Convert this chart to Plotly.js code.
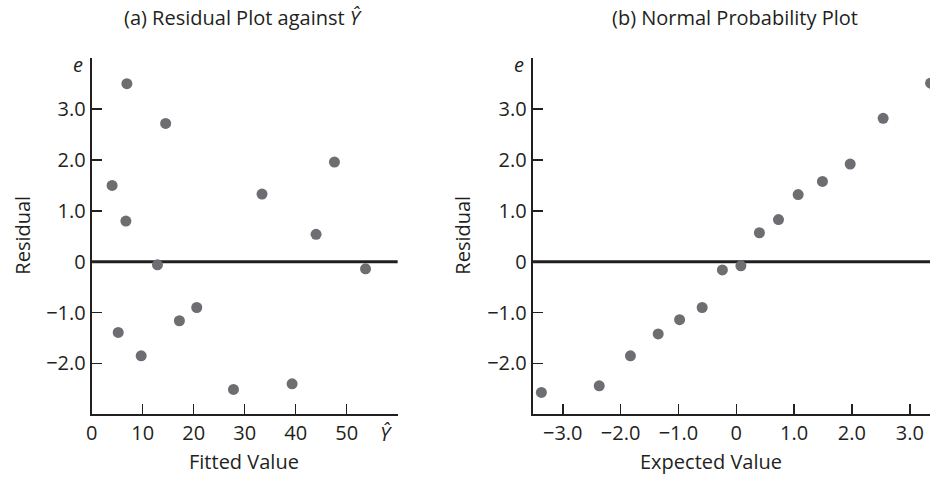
<!DOCTYPE html>
<html>
<head>
<meta charset="utf-8">
<script src="https://cdn.plot.ly/plotly-3.0.1.min.js"></script>
<style>
  html, body { margin: 0; padding: 0; background: #fff; overflow: hidden; }
  #chart { width: 930px; height: 477px; }
</style>
</head>
<body>
<div id="chart"></div>
<script>
// (a) residuals against fitted values
const fittedValues = [6.9, 14.5, 4.0, 6.7, 12.9, 33.4, 44.0, 47.6, 53.7, 5.2, 9.7, 17.2, 20.6, 27.8, 39.3];
const residualsA   = [3.50, 2.72, 1.50, 0.80, -0.06, 1.33, 0.54, 1.96, -0.14, -1.39, -1.85, -1.16, -0.90, -2.51, -2.40];

// (b) ordered residuals against expected normal values
const expectedValues = [-3.37, -2.37, -1.83, -1.35, -0.98, -0.59, -0.24, 0.08, 0.40, 0.73, 1.07, 1.49, 1.97, 2.54, 3.36];
const residualsB     = [-2.57, -2.44, -1.85, -1.42, -1.14, -0.90, -0.16, -0.08, 0.57, 0.83, 1.32, 1.58, 1.92, 2.82, 3.51];

// tick labels
const fittedTicks = [0, 10, 20, 30, 40, 50];
const fittedTickText = ['0', '10', '20', '30', '40', '50'];
const expectedTicks = [-3, -2, -1, 0, 1, 2, 3];
const expectedTickText = ['\u22123.0', '\u22122.0', '\u22121.0', '0', '1.0', '2.0', '3.0'];
const residualTicks = [-2, -1, 0, 1, 2, 3];
const residualTickText = ['\u22122.0', '\u22121.0', '0', '1.0', '2.0', '3.0'];

const INK = '#231f20';
const DOT = '#6d6e71';
const FONT = 'Open Sans, Noto Sans, sans-serif';
const FS = 20;

const marker = { color: DOT, size: 11 };

const traces = [
  { type: 'scatter', mode: 'markers', x: fittedValues, y: residualsA, xaxis: 'x', yaxis: 'y', marker: marker, hoverinfo: 'x+y' },
  { type: 'scatter', mode: 'markers', x: expectedValues, y: residualsB, xaxis: 'x2', yaxis: 'y2', marker: marker, hoverinfo: 'x+y' }
];

const yDomain = [0.1314, 0.8778];

function axisBase() {
  return {
    showline: true, linecolor: INK, linewidth: 2,
    ticks: 'inside', ticklen: 10, tickwidth: 1.5, tickcolor: INK,
    showgrid: false, zeroline: false,
    tickfont: { family: FONT, size: FS, color: INK },
    fixedrange: true
  };
}

const layout = {
  width: 930, height: 477,
  margin: { l: 0, r: 0, t: 0, b: 0 },
  paper_bgcolor: '#fff', plot_bgcolor: '#fff',
  showlegend: false,
  font: { family: FONT, size: FS, color: INK },
  xaxis: Object.assign(axisBase(), {
    domain: [0.0986, 0.4276], range: [0, 60], anchor: 'y',
    tickmode: 'array', tickvals: fittedTicks, ticktext: fittedTickText
  }),
  yaxis: Object.assign(axisBase(), {
    domain: yDomain, range: [-3, 4], anchor: 'x',
    tickmode: 'array', tickvals: residualTicks, ticktext: residualTickText
  }),
  xaxis2: Object.assign(axisBase(), {
    domain: [0.5728, 1], range: [-3.52, 3.35], anchor: 'y2',
    tickmode: 'array', tickvals: expectedTicks, ticktext: expectedTickText
  }),
  yaxis2: Object.assign(axisBase(), {
    domain: yDomain, range: [-3, 4], anchor: 'x2',
    tickmode: 'array', tickvals: residualTicks, ticktext: residualTickText
  }),
  shapes: [
    { type: 'line', xref: 'x domain', yref: 'y', x0: 0, x1: 1, y0: 0, y1: 0, line: { color: INK, width: 3 }, layer: 'below' },
    { type: 'line', xref: 'x2 domain', yref: 'y2', x0: 0, x1: 1, y0: 0, y1: 0, line: { color: INK, width: 3 }, layer: 'below' }
  ],
  annotations: [
    { text: '(a) Residual Plot against <i>\u0176</i>', xref: 'paper', yref: 'paper', x: 0.2618, y: 0.9623, xanchor: 'center', yanchor: 'middle', showarrow: false },
    { text: '(b) Normal Probability Plot', xref: 'paper', yref: 'paper', x: 0.790, y: 0.9623, xanchor: 'center', yanchor: 'middle', showarrow: false },
    { text: 'Fitted Value', xref: 'paper', yref: 'paper', x: 0.2629, y: 0.032, xanchor: 'center', yanchor: 'middle', showarrow: false },
    { text: 'Expected Value', xref: 'paper', yref: 'paper', x: 0.7645, y: 0.032, xanchor: 'center', yanchor: 'middle', showarrow: false },
    { text: 'Residual', xref: 'paper', yref: 'paper', x: 0.0242, y: 0.507, textangle: -90, xanchor: 'center', yanchor: 'middle', showarrow: false },
    { text: 'Residual', xref: 'paper', yref: 'paper', x: 0.4973, y: 0.507, textangle: -90, xanchor: 'center', yanchor: 'middle', showarrow: false },
    { text: '<i>e</i>', xref: 'x domain', yref: 'y', x: 0, y: 3.88, xanchor: 'right', yanchor: 'middle', xshift: -7, showarrow: false },
    { text: '<i>e</i>', xref: 'x2 domain', yref: 'y2', x: 0, y: 3.88, xanchor: 'right', yanchor: 'middle', xshift: -7, showarrow: false },
    { text: '<i>\u0176</i>', xref: 'x', yref: 'paper', x: 57.8, y: 1 - 433 / 477, xanchor: 'center', yanchor: 'middle', showarrow: false }
  ]
};

Plotly.newPlot('chart', traces, layout, { displayModeBar: false, staticPlot: true });
</script>
</body>
</html>
